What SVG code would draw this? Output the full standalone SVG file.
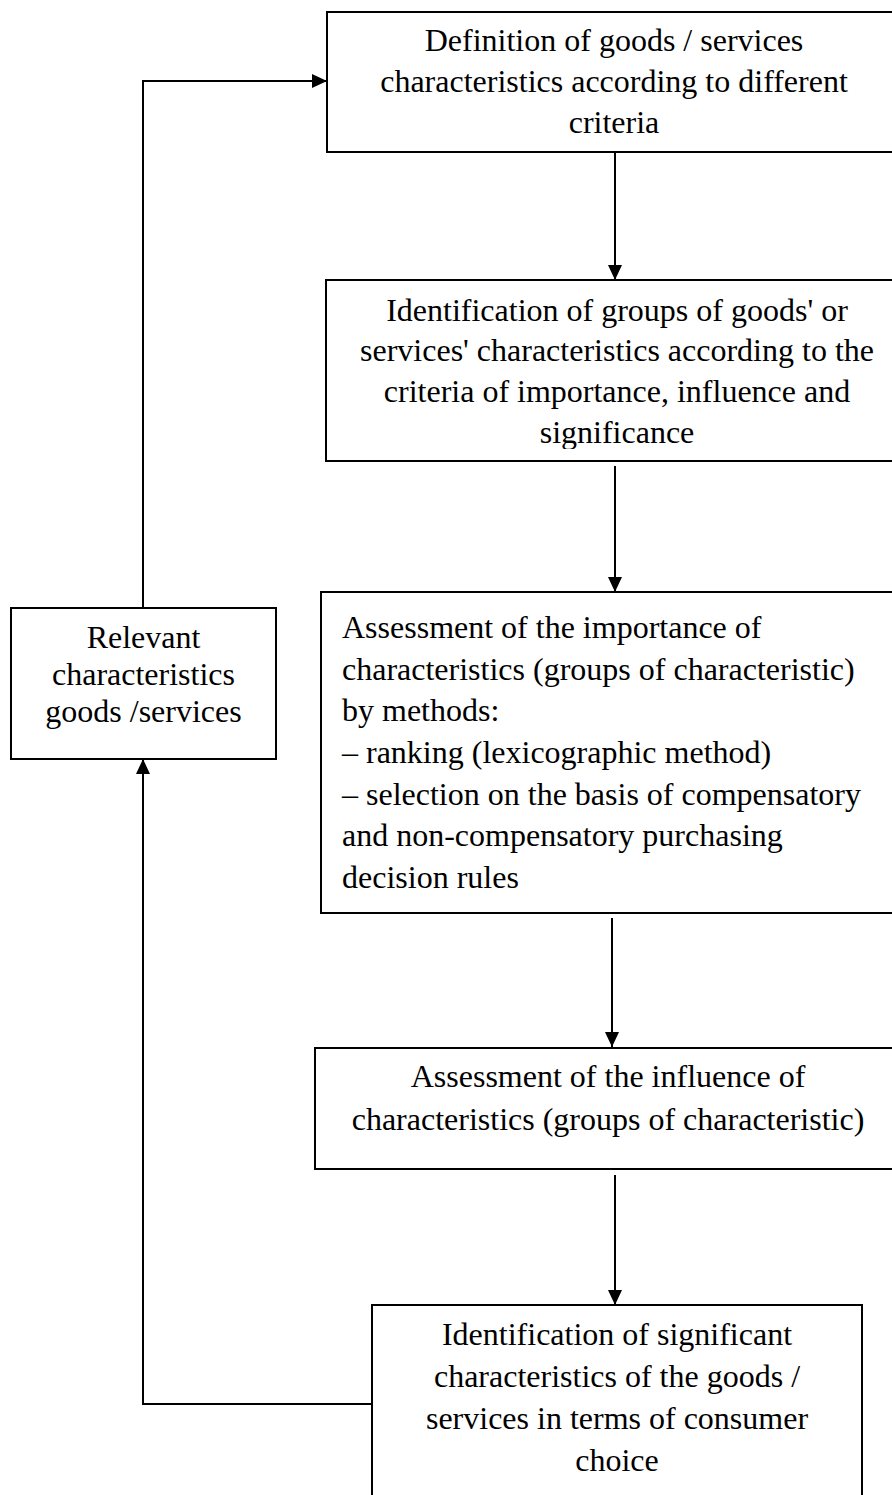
<svg xmlns="http://www.w3.org/2000/svg" width="892" height="1495" viewBox="0 0 892 1495">
<style>
.box{fill:#fff;stroke:#000;stroke-width:2}
.t{font-family:"Liberation Serif","Times New Roman",serif;font-size:32px;fill:#000}
.c{text-anchor:middle}
.conn{fill:none;stroke:#000;stroke-width:2}
</style>
<defs>
<marker id="ah" markerWidth="16" markerHeight="14" refX="15" refY="7" orient="auto" markerUnits="userSpaceOnUse">
<path d="M0,0 L15,7 L0,14 Z" fill="#000"/>
</marker>
<clipPath id="clip2"><rect x="326" y="280" width="600" height="169"/></clipPath>
</defs>
<rect width="892" height="1495" fill="#fff"/>
<g id="connectors">
<path class="conn" d="M615,152 L615,280" marker-end="url(#ah)"/>
<path class="conn" d="M615,466 L615,592" marker-end="url(#ah)"/>
<path class="conn" d="M612,918 L612,1047" marker-end="url(#ah)"/>
<path class="conn" d="M615,1175 L615,1305" marker-end="url(#ah)"/>
<path class="conn" d="M372,1404 L143,1404 L143,759" marker-end="url(#ah)"/>
<path class="conn" d="M143,608 L143,81 L327,81" marker-end="url(#ah)"/>
</g>
<g id="n1">
<rect class="box" x="327" y="12" width="600" height="140"/>
<text class="t c" x="614" y="51">Definition of goods / services</text>
<text class="t c" x="614" y="92">characteristics according to different</text>
<text class="t c" x="614" y="133">criteria</text>
</g>
<g id="n2">
<rect class="box" x="326" y="280" width="600" height="181"/>
<g clip-path="url(#clip2)">
<text class="t c" x="617" y="321">Identification of groups of goods' or</text>
<text class="t c" x="617" y="361">services' characteristics according to the</text>
<text class="t c" x="617" y="402">criteria of importance, influence and</text>
<text class="t c" x="617" y="443">significance</text>
</g>
</g>
<g id="n3">
<rect class="box" x="321" y="592" width="600" height="321"/>
<text class="t" x="342" y="638">Assessment of the importance of</text>
<text class="t" x="342" y="680">characteristics (groups of characteristic)</text>
<text class="t" x="342" y="721">by methods:</text>
<text class="t" x="342" y="763">– ranking (lexicographic method)</text>
<text class="t" x="342" y="805">– selection on the basis of compensatory</text>
<text class="t" x="342" y="846">and non-compensatory purchasing</text>
<text class="t" x="342" y="888">decision rules</text>
</g>
<g id="n4">
<rect class="box" x="315" y="1048" width="600" height="121"/>
<text class="t c" x="608" y="1087">Assessment of the influence of</text>
<text class="t c" x="608" y="1130">characteristics (groups of characteristic)</text>
</g>
<g id="n5">
<rect class="box" x="372" y="1305" width="490" height="220"/>
<text class="t c" x="617" y="1345">Identification of significant</text>
<text class="t c" x="617" y="1387">characteristics of the goods /</text>
<text class="t c" x="617" y="1429">services in terms of consumer</text>
<text class="t c" x="617" y="1471">choice</text>
</g>
<g id="n6">
<rect class="box" x="11" y="608" width="265" height="151"/>
<text class="t c" x="143.5" y="648">Relevant</text>
<text class="t c" x="143.5" y="685">characteristics</text>
<text class="t c" x="143.5" y="722">goods /services</text>
</g>
</svg>
